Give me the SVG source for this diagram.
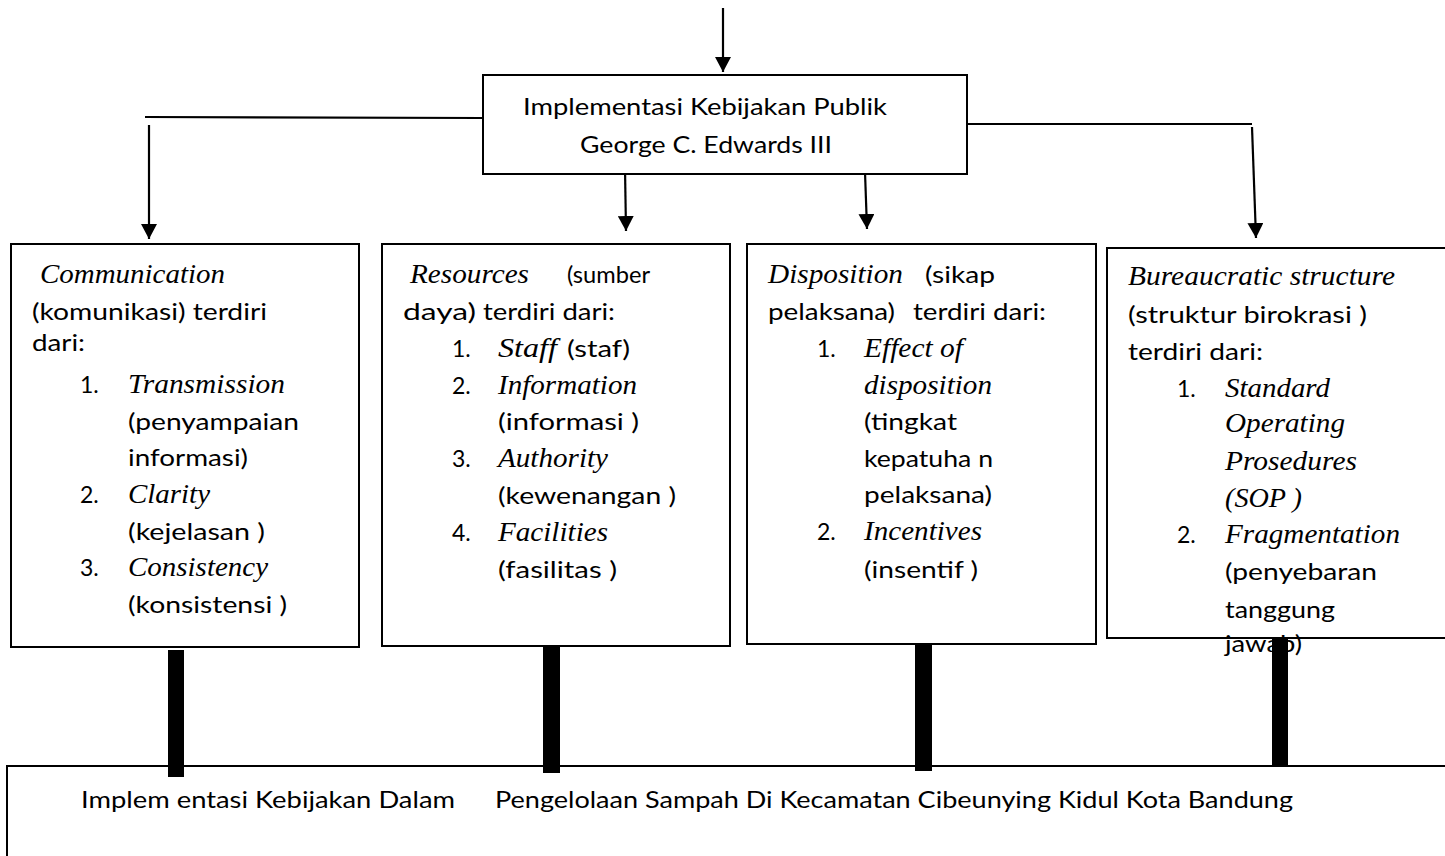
<svg xmlns="http://www.w3.org/2000/svg" width="1445" height="856" viewBox="0 0 1445 856">
<style>
.box{fill:#fff;stroke:#000;stroke-width:2}
.ln{fill:none;stroke:#000;stroke-width:2.2}
.bar{fill:#000}
.s{font-family:Lato,"Open Sans","Liberation Sans",sans-serif;font-size:23px;fill:#000}
.t{font-family:Lato,"Open Sans","Liberation Sans",sans-serif;font-size:24px;fill:#000}
.i{font-family:"Liberation Serif","Times New Roman",serif;font-style:italic;font-size:27px;fill:#000}
</style>
<defs>
<marker id="ah" markerUnits="userSpaceOnUse" markerWidth="16" markerHeight="16" viewBox="0 0 16 16" refX="15" refY="8" orient="auto">
<path d="M0,0 L15,8 L0,16 Z" fill="#000"/>
</marker>
</defs>
<g id="connectors">
<line class="ln" x1="723" y1="8" x2="723" y2="72" marker-end="url(#ah)"/>
<line class="ln" x1="145" y1="117" x2="483" y2="118"/>
<line class="ln" x1="149" y1="125" x2="149" y2="239" marker-end="url(#ah)"/>
<line class="ln" x1="625" y1="168" x2="626" y2="231" marker-end="url(#ah)"/>
<line class="ln" x1="865" y1="172" x2="867" y2="229" marker-end="url(#ah)"/>
<line class="ln" x1="967" y1="124" x2="1252" y2="124"/>
<line class="ln" x1="1252" y1="127" x2="1256" y2="238" marker-end="url(#ah)"/>
</g>
<g id="top">
<rect class="box" x="483" y="75" width="484" height="99"/>
<text class="t" x="523" y="115" textLength="364" lengthAdjust="spacingAndGlyphs">Implementasi Kebijakan Publik</text>
<text class="t" x="580" y="153" textLength="252" lengthAdjust="spacingAndGlyphs">George C. Edwards III</text>
</g>
<g id="communication">
<rect class="box" x="11" y="244" width="348" height="403"/>
<text class="i" x="40" y="283" textLength="185" lengthAdjust="spacingAndGlyphs">Communication</text>
<text class="s" x="32" y="320" textLength="235" lengthAdjust="spacingAndGlyphs">(komunikasi) terdiri</text>
<text class="s" x="32" y="351" textLength="53" lengthAdjust="spacingAndGlyphs">dari:</text>
<text class="s" x="80" y="393">1.</text>
<text class="i" x="128" y="393" textLength="157" lengthAdjust="spacingAndGlyphs">Transmission</text>
<text class="s" x="128" y="430" textLength="171" lengthAdjust="spacingAndGlyphs">(penyampaian</text>
<text class="s" x="128" y="466" textLength="120" lengthAdjust="spacingAndGlyphs">informasi)</text>
<text class="s" x="80" y="503">2.</text>
<text class="i" x="128" y="503" textLength="82" lengthAdjust="spacingAndGlyphs">Clarity</text>
<text class="s" x="128" y="540" textLength="137" lengthAdjust="spacingAndGlyphs">(kejelasan )</text>
<text class="s" x="80" y="576">3.</text>
<text class="i" x="128" y="576" textLength="140" lengthAdjust="spacingAndGlyphs">Consistency</text>
<text class="s" x="128" y="613" textLength="159" lengthAdjust="spacingAndGlyphs">(konsistensi )</text>
</g>
<g id="resources">
<rect class="box" x="382" y="244" width="348" height="402"/>
<text class="i" x="410" y="283" textLength="119" lengthAdjust="spacingAndGlyphs">Resources</text>
<text class="s" x="567" y="283" textLength="83" lengthAdjust="spacingAndGlyphs">(sumber</text>
<text class="s" x="403" y="320" textLength="73" lengthAdjust="spacingAndGlyphs">daya)</text>
<text class="s" x="483" y="320" textLength="132" lengthAdjust="spacingAndGlyphs">terdiri dari:</text>
<text class="s" x="452" y="357">1.</text>
<text class="i" x="498" y="357" textLength="59" lengthAdjust="spacingAndGlyphs">Staff</text>
<text class="s" x="567" y="357" textLength="63" lengthAdjust="spacingAndGlyphs">(staf)</text>
<text class="s" x="452" y="394">2.</text>
<text class="i" x="498" y="394" textLength="139" lengthAdjust="spacingAndGlyphs">Information</text>
<text class="s" x="498" y="430" textLength="141" lengthAdjust="spacingAndGlyphs">(informasi )</text>
<text class="s" x="452" y="467">3.</text>
<text class="i" x="498" y="467" textLength="110" lengthAdjust="spacingAndGlyphs">Authority</text>
<text class="s" x="498" y="504" textLength="178" lengthAdjust="spacingAndGlyphs">(kewenangan )</text>
<text class="s" x="452" y="541">4.</text>
<text class="i" x="498" y="541" textLength="110" lengthAdjust="spacingAndGlyphs">Facilities</text>
<text class="s" x="498" y="578" textLength="119" lengthAdjust="spacingAndGlyphs">(fasilitas )</text>
</g>
<g id="disposition">
<rect class="box" x="747" y="244" width="349" height="400"/>
<text class="i" x="768" y="283" textLength="135" lengthAdjust="spacingAndGlyphs">Disposition</text>
<text class="s" x="925" y="283" textLength="70" lengthAdjust="spacingAndGlyphs">(sikap</text>
<text class="s" x="768" y="320" textLength="127" lengthAdjust="spacingAndGlyphs">pelaksana)</text>
<text class="s" x="913" y="320" textLength="133" lengthAdjust="spacingAndGlyphs">terdiri dari:</text>
<text class="s" x="817" y="357">1.</text>
<text class="i" x="864" y="357" textLength="99" lengthAdjust="spacingAndGlyphs">Effect of</text>
<text class="i" x="864" y="394" textLength="128" lengthAdjust="spacingAndGlyphs">disposition</text>
<text class="s" x="864" y="430" textLength="93" lengthAdjust="spacingAndGlyphs">(tingkat</text>
<text class="s" x="864" y="467" textLength="129" lengthAdjust="spacingAndGlyphs">kepatuha n</text>
<text class="s" x="864" y="503" textLength="128" lengthAdjust="spacingAndGlyphs">pelaksana)</text>
<text class="s" x="817" y="540">2.</text>
<text class="i" x="864" y="540" textLength="118" lengthAdjust="spacingAndGlyphs">Incentives</text>
<text class="s" x="864" y="578" textLength="114" lengthAdjust="spacingAndGlyphs">(insentif )</text>
</g>
<g id="bureaucratic">
<rect class="box" x="1107" y="248" width="350" height="390"/>
<text class="i" x="1128" y="285" textLength="267" lengthAdjust="spacingAndGlyphs">Bureaucratic structure</text>
<text class="s" x="1128" y="323" textLength="239" lengthAdjust="spacingAndGlyphs">(struktur birokrasi )</text>
<text class="s" x="1128" y="360" textLength="135" lengthAdjust="spacingAndGlyphs">terdiri dari:</text>
<text class="s" x="1177" y="397">1.</text>
<text class="i" x="1225" y="397" textLength="105" lengthAdjust="spacingAndGlyphs">Standard</text>
<text class="i" x="1225" y="432" textLength="120" lengthAdjust="spacingAndGlyphs">Operating</text>
<text class="i" x="1225" y="470" textLength="132" lengthAdjust="spacingAndGlyphs">Prosedures</text>
<text class="i" x="1225" y="507" textLength="77" lengthAdjust="spacingAndGlyphs">(SOP )</text>
<text class="s" x="1177" y="543">2.</text>
<text class="i" x="1225" y="543" textLength="175" lengthAdjust="spacingAndGlyphs">Fragmentation</text>
<text class="s" x="1225" y="580" textLength="152" lengthAdjust="spacingAndGlyphs">(penyebaran</text>
<text class="s" x="1225" y="618" textLength="110" lengthAdjust="spacingAndGlyphs">tanggung</text>
<text class="s" x="1225" y="652" textLength="77" lengthAdjust="spacingAndGlyphs">jawab)</text>
</g>
<g id="bottom">
<rect class="box" x="7" y="766" width="1450" height="100"/>
<text class="s" x="81" y="808" textLength="374" lengthAdjust="spacingAndGlyphs">Implem entasi Kebijakan Dalam</text>
<text class="s" x="495" y="808" textLength="798" lengthAdjust="spacingAndGlyphs">Pengelolaan Sampah Di Kecamatan Cibeunying Kidul Kota Bandung</text>
</g>
<g id="bars">
<rect class="bar" x="168" y="650" width="16" height="127"/>
<rect class="bar" x="543" y="646" width="17" height="127"/>
<rect class="bar" x="915" y="644" width="17" height="127"/>
<rect class="bar" x="1272" y="638" width="16" height="127"/>
</g>
</svg>
